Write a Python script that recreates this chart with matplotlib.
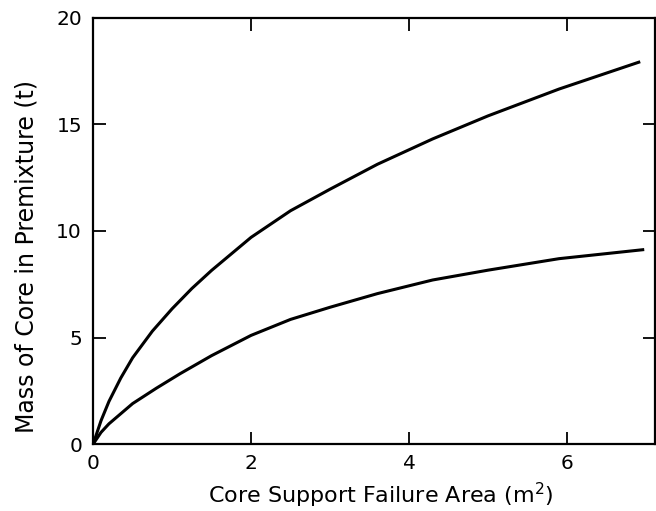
import matplotlib
matplotlib.use("Agg")
import matplotlib.pyplot as plt

plt.rcParams["font.family"] = ["DejaVu Sans"]

# Upper curve
upper_x = [0, 0.1, 0.2, 0.35, 0.5, 0.75, 1.0, 1.25, 1.5, 2.0, 2.5, 3.0, 3.6, 4.3, 5.0, 5.9, 6.91]
upper_y = [0, 1.1, 2.0, 3.1, 4.05, 5.3, 6.35, 7.3, 8.15, 9.7, 10.95, 11.96, 13.13, 14.32, 15.4, 16.66, 17.92]

# Lower curve
lower_x = [0, 0.1, 0.2, 0.5, 0.8, 1.1, 1.5, 2.0, 2.5, 3.0, 3.6, 4.3, 5.0, 5.9, 6.96]
lower_y = [0, 0.55, 0.95, 1.9, 2.62, 3.3, 4.15, 5.1, 5.85, 6.42, 7.06, 7.7, 8.16, 8.7, 9.12]

x_ticks = [0, 2, 4, 6]
y_ticks = [0, 5, 10, 15, 20]

fig = plt.figure(figsize=(6.56, 5.11), dpi=100)
ax = fig.add_axes([0.142, 0.131, 0.857, 0.834])

ax.plot(upper_x, upper_y, color="black", linewidth=2.2, solid_joinstyle="round")
ax.plot(lower_x, lower_y, color="black", linewidth=2.2, solid_joinstyle="round")

ax.set_xlim(0, 7.12)
ax.set_ylim(0, 20)
ax.set_xticks(x_ticks)
ax.set_yticks(y_ticks)

for side in ax.spines.values():
    side.set_linewidth(1.6)

ax.tick_params(direction="in", top=True, right=True, length=9, width=1.3,
               labelsize=14.5, colors="black")
ax.tick_params(axis="x", pad=7)
ax.tick_params(axis="y", pad=8)

ax.set_xlabel("Core Support Failure Area (m$^2$)", fontsize=16, labelpad=6, x=0.511)
ax.set_ylabel("Mass of Core in Premixture (t)", fontsize=17, labelpad=13, y=0.44)

fig.savefig("out.png", dpi=100)
